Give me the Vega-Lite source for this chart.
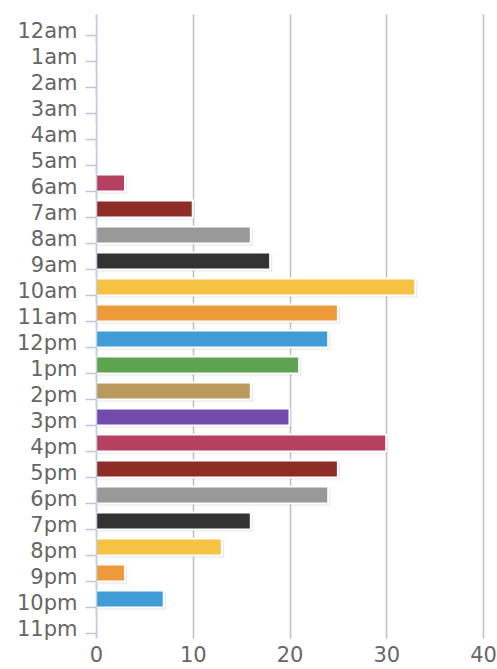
{
  "$schema": "https://vega.github.io/schema/vega-lite/v6.json",
  "width": 387,
  "height": 624,
  "autosize": {"type": "none"},
  "padding": {"left": 96, "top": 14, "right": 14, "bottom": 31},
  "background": "white",
  "config": {"view": {"stroke": null}},
  "data": {"values": [
    {"hour": "12am", "count": 0},
    {"hour": "1am", "count": 0},
    {"hour": "2am", "count": 0},
    {"hour": "3am", "count": 0},
    {"hour": "4am", "count": 0},
    {"hour": "5am", "count": 0},
    {"hour": "6am", "count": 3},
    {"hour": "7am", "count": 10},
    {"hour": "8am", "count": 16},
    {"hour": "9am", "count": 18},
    {"hour": "10am", "count": 33},
    {"hour": "11am", "count": 25},
    {"hour": "12pm", "count": 24},
    {"hour": "1pm", "count": 21},
    {"hour": "2pm", "count": 16},
    {"hour": "3pm", "count": 20},
    {"hour": "4pm", "count": 30},
    {"hour": "5pm", "count": 25},
    {"hour": "6pm", "count": 24},
    {"hour": "7pm", "count": 16},
    {"hour": "8pm", "count": 13},
    {"hour": "9pm", "count": 3},
    {"hour": "10pm", "count": 7},
    {"hour": "11pm", "count": 0}
  ]},
  "encoding": {
    "y": {
      "field": "hour", "type": "nominal",
      "sort": ["12am","1am","2am","3am","4am","5am","6am","7am","8am","9am","10am","11am","12pm","1pm","2pm","3pm","4pm","5pm","6pm","7pm","8pm","9pm","10pm","11pm"],
      "scale": {"paddingInner": 0.34, "paddingOuter": 0.17},
      "axis": {
        "title": null,
        "bandPosition": 1,
        "zindex": 1,
        "domainColor": "#C0D0E0",
        "domainWidth": 1.5,
        "tickColor": "#B8C8DC",
        "tickWidth": 1.5,
        "tickSize": 11,
        "labelPadding": 8,
        "labelFont": "DejaVu Sans",
        "labelFontSize": 21,
        "labelColor": "#666666",
        "labelOffset": 5
      }
    },
    "x": {
      "field": "count", "type": "quantitative",
      "scale": {"domain": [0, 40], "nice": false},
      "axis": {
        "title": null,
        "values": [0, 10, 20, 30, 40],
        "domain": false,
        "ticks": false,
        "gridColor": "#C0C0C0",
        "gridWidth": 1.5,
        "labelPadding": 6,
        "labelFont": "DejaVu Sans",
        "labelFontSize": 21,
        "labelColor": "#666666",
        "labelFlush": false
      }
    }
  },
  "layer": [
    {
      "mark": {"type": "bar", "color": "#000000", "opacity": 0.09, "stroke": "#000000", "strokeOpacity": 0.06, "strokeWidth": 6, "xOffset": 2, "yOffset": 2}
    },
    {
      "mark": {"type": "bar", "stroke": "white", "strokeWidth": 2},
      "encoding": {
        "color": {
          "field": "hour", "type": "nominal", "legend": null,
          "scale": {
            "domain": ["12am","1am","2am","3am","4am","5am","6am","7am","8am","9am","10am","11am","12pm","1pm","2pm","3pm","4pm","5pm","6pm","7pm","8pm","9pm","10pm","11pm"],
            "range": ["#F5C243","#EC9A3A","#419BD6","#5EA350","#B99A5C","#734BAD","#B5405F","#8E2D26","#999999","#333333","#F5C243","#EC9A3A","#419BD6","#5EA350","#B99A5C","#734BAD","#B5405F","#8E2D26","#999999","#333333","#F5C243","#EC9A3A","#419BD6","#5EA350"]
          }
        }
      }
    }
  ]
}
